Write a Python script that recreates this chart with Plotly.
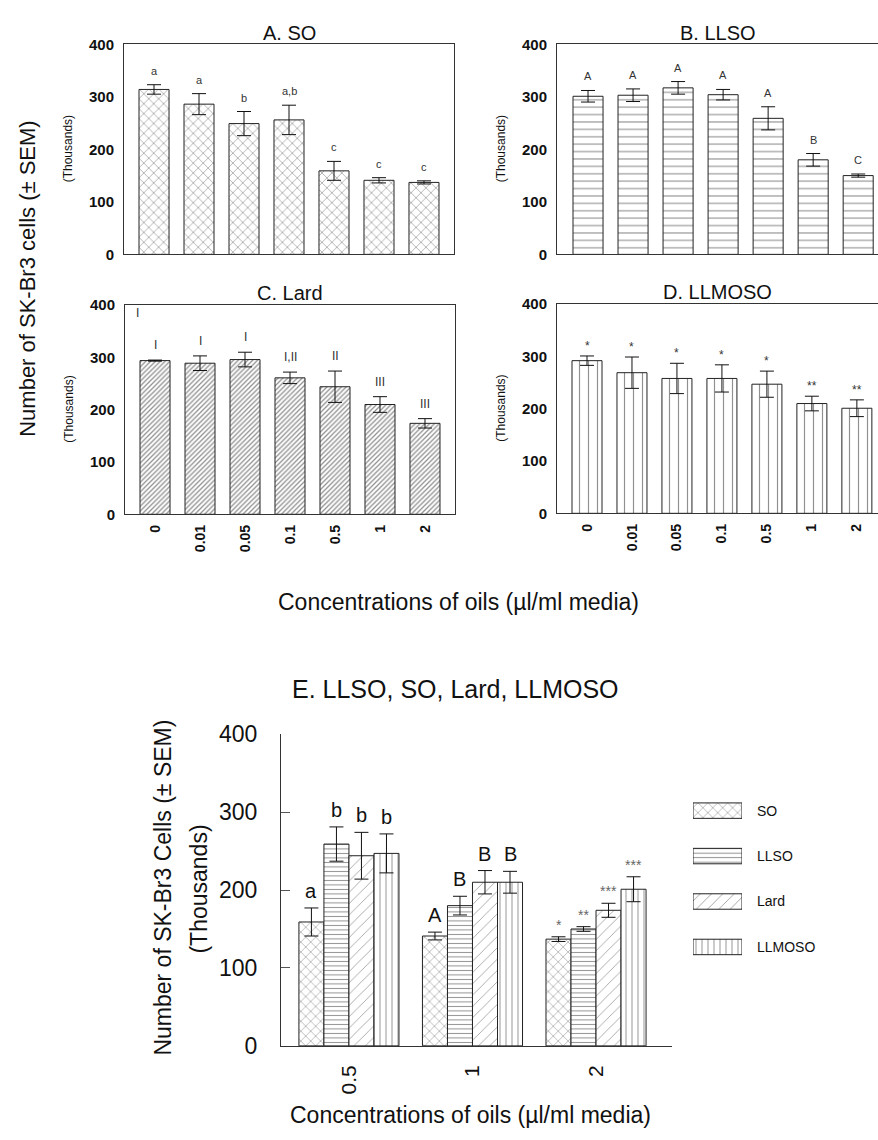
import plotly.graph_objects as go

# ---------------- data ----------------
conc = ["0", "0.01", "0.05", "0.1", "0.5", "1", "2"]

so_mean = [314, 286, 249, 256, 159, 141, 137]
so_sem = [9, 20, 23, 28, 18, 5, 3]
so_lab = ["a", "a", "b", "a,b", "c", "c", "c"]

llso_mean = [301, 303, 317, 304, 259, 180, 150]
llso_sem = [11, 12, 12, 10, 22, 12, 3]
llso_lab = ["A", "A", "A", "A", "A", "B", "C"]

lard_mean = [294, 289, 296, 261, 244, 210, 174]
lard_sem = [1, 14, 14, 11, 30, 15, 9]
lard_lab = ["I", "I", "I", "I,II", "II", "III", "III"]

llmoso_mean = [292, 269, 258, 258, 247, 210, 201]
llmoso_sem = [9, 30, 29, 26, 25, 14, 16]
llmoso_lab = ["*", "*", "*", "*", "*", "**", "**"]

e_conc = ["0.5", "1", "2"]
oils = ["SO", "LLSO", "Lard", "LLMOSO"]
e_lab_so = ["a", "A", "*"]
e_lab_llso = ["b", "B", "**"]
e_lab_lard = ["b", "B", "***"]
e_lab_llmoso = ["b", "B", "***"]

W, H = 878, 1140
FONT = "Arial, 'Liberation Sans', sans-serif"


def fx(p):
    return p / W


def fy(p):
    return 1 - p / H


pat_panel = {
    "SO": dict(shape="x", size=7, solidity=0.18, fgcolor="#222", bgcolor="white"),
    "LLSO": dict(shape="-", size=7.4, solidity=0.15, fgcolor="#222", bgcolor="white"),
    "Lard": dict(shape="/", size=3.4, solidity=0.38, fgcolor="#222", bgcolor="white"),
    "LLMOSO": dict(shape="|", size=9, solidity=0.13, fgcolor="#222", bgcolor="white"),
}
pat_e = {
    "SO": dict(shape="x", size=7, solidity=0.16, fgcolor="#222", bgcolor="white"),
    "LLSO": dict(shape="-", size=4.5, solidity=0.22, fgcolor="#222", bgcolor="white"),
    "Lard": dict(shape="/", size=8, solidity=0.1, fgcolor="#333", bgcolor="white"),
    "LLMOSO": dict(shape="|", size=6, solidity=0.16, fgcolor="#222", bgcolor="white"),
}

fig = go.Figure()

panels = [
    # key, title, mean, sem, labels, axis suffix, xdom(px), ydom(px top,bottom), xrange, mirror_y, show x ticks, label font, yshift
    ("SO", "A. SO", so_mean, so_sem, so_lab, "", (124, 454), (32, 247), [-0.667, 6.667], True, False, 11, 14),
    ("LLSO", "B. LLSO", llso_mean, llso_sem, llso_lab, "2", (557, 878), (32, 247), [-0.689, 6.44], False, False, 11, 14),
    ("Lard", "C. Lard", lard_mean, lard_sem, lard_lab, "3", (125, 455), (299, 513), [-0.667, 6.667], True, True, 12, 15),
    ("LLMOSO", "D. LLMOSO", llmoso_mean, llmoso_sem, llmoso_lab, "4", (557, 878), (298, 512), [-0.667, 6.47], False, True, 12, 10),
]

annotations = []
layout_axes = {}


def note(x, y, text, size, xref="paper", yref="paper", angle=0, color="#111", yshift=0):
    return dict(x=x, y=y, xref=xref, yref=yref, text=text, showarrow=False,
                xanchor="center", yanchor="middle", textangle=angle, yshift=yshift,
                font=dict(family=FONT, size=size, color=color))


for key, title, mean, sem, labs, sfx, xd, yd, xr, mirror_y, showx, lfs, ysh in panels:
    xa = "x" + sfx
    ya = "y" + sfx
    fig.add_trace(go.Bar(
        x=conc, y=mean, xaxis=xa, yaxis=ya, width=0.667,
        marker=dict(color="white", pattern=pat_panel[key], line=dict(color="#222", width=1)),
        error_y=dict(type="data", array=sem, color="#111", thickness=1, width=7),
        showlegend=False,
    ))
    layout_axes["xaxis" + sfx] = dict(
        domain=[fx(xd[0]), fx(xd[1])], anchor=ya, type="category", range=xr,
        showline=True, linecolor="#333", linewidth=1, mirror=True,
        ticks="", showticklabels=showx, tickangle=-90, ticklabelstandoff=4,
        tickfont=dict(family=FONT, size=14, color="#111", weight="bold"),
        showgrid=False, zeroline=False, fixedrange=True,
    )
    layout_axes["yaxis" + sfx] = dict(
        domain=[fy(yd[1]), fy(yd[0])], anchor=xa, range=[0, 400],
        tickvals=[0, 100, 200, 300, 400],
        showline=True, linecolor="#333", linewidth=1, mirror=mirror_y,
        ticks="", ticklabelstandoff=6,
        tickfont=dict(family=FONT, size=15, color="#111", weight="bold"),
        showgrid=False, zeroline=False, fixedrange=True,
    )
    for i, (m, s, t) in enumerate(zip(mean, sem, labs)):
        annotations.append(note(i, m + s, t, lfs, xref=xa, yref=ya, color="#333", yshift=ysh))
    # panel title
    annotations.append(note(fx((xd[0] + xd[1]) / 2), fy(yd[0] - 12), title, 20))
    # (Thousands)
    annotations.append(note(fx(xd[0] - 56), fy((yd[0] + yd[1]) / 2), "(Thousands)", 12, angle=-90))

# stray mark in panel C
annotations.append(note(-0.4, 385, "I", 12, xref="x3", yref="y3", color="#333"))

# ---------------- panel E ----------------
e_means = {
    "SO": so_mean[4:], "LLSO": llso_mean[4:], "Lard": lard_mean[4:], "LLMOSO": llmoso_mean[4:],
}
e_sems = {
    "SO": so_sem[4:], "LLSO": llso_sem[4:], "Lard": lard_sem[4:], "LLMOSO": llmoso_sem[4:],
}
e_labs = {"SO": e_lab_so, "LLSO": e_lab_llso, "Lard": e_lab_lard, "LLMOSO": e_lab_llmoso}

nb = len(oils)
bw = 0.81 / nb
for i, oil in enumerate(oils):
    fig.add_trace(go.Bar(
        name=oil, x=e_conc, y=e_means[oil], xaxis="x5", yaxis="y5",
        marker=dict(color="white", pattern=pat_e[oil], line=dict(color="#222", width=1)),
        error_y=dict(type="data", array=e_sems[oil], color="#111", thickness=1, width=7),
        showlegend=False,
    ))
    off = -0.405 + (i + 0.5) * bw
    for j, (m, s, t) in enumerate(zip(e_means[oil], e_sems[oil], e_labs[oil])):
        is_star = t.startswith("*")
        annotations.append(note(j + off, m + s, t, 14 if is_star else 20, xref="x5", yref="y5",
                                color="#666" if is_star else "#111", yshift=12 if is_star else 17))

layout_axes["xaxis5"] = dict(
    domain=[fx(281), fx(672)], anchor="y5", type="category", range=[-0.55, 2.615],
    showline=True, linecolor="#333", linewidth=1, ticks="", tickangle=-90, ticklabelstandoff=10,
    tickfont=dict(family=FONT, size=21, color="#111"),
    showgrid=False, zeroline=False, fixedrange=True,
)
layout_axes["yaxis5"] = dict(
    domain=[fy(1057), fy(738)], anchor="x5", range=[0, 400],
    tickvals=[0, 100, 200, 300, 400],
    showline=True, linecolor="#333", linewidth=1, ticks="inside", ticklen=9,
    tickcolor="#555", ticklabelstandoff=18,
    tickfont=dict(family=FONT, size=23, color="#111"),
    showgrid=False, zeroline=False, fixedrange=True,
)

# legend swatches drawn as a tiny bar axis
fig.add_trace(go.Bar(
    y=oils, x=[1] * len(oils), orientation="h", xaxis="x6", yaxis="y6", width=0.34,
    marker=dict(color="white", line=dict(color="#222", width=1),
                pattern=dict(shape=[pat_e[o]["shape"] for o in oils],
                             size=[pat_e[o]["size"] for o in oils],
                             solidity=[pat_e[o]["solidity"] for o in oils],
                             fgcolor="#222", bgcolor="white")),
    showlegend=False, hoverinfo="skip",
))
layout_axes["xaxis6"] = dict(domain=[fx(693), fx(742)], anchor="y6", range=[0, 1], visible=False, fixedrange=True)
layout_axes["yaxis6"] = dict(
    domain=[fy(979), fy(793)], anchor="x6", type="category", categoryarray=oils,
    range=[3.5, -0.5], side="right", showline=False, ticks="", ticklabelstandoff=14,
    tickfont=dict(family=FONT, size=14, color="#111"), showgrid=False, zeroline=False, fixedrange=True,
)

# titles
annotations += [
    note(fx(28), fy(272), "Number of SK-Br3 cells (± SEM)", 22, angle=-90),
    note(fx(458), fy(603), "Concentrations of oils (µl/ml media)", 23),
    note(fx(455), fy(692), "E. LLSO, SO, Lard, LLMOSO", 25),
    note(fx(163), fy(895), "Number of SK-Br3 Cells (± SEM)", 23, angle=-90),
    note(fx(199), fy(897), "(Thousands)", 23, angle=-90),
    note(fx(470), fy(1128), "Concentrations of oils (µl/ml media)", 23),
]

fig.update_layout(
    width=W, height=H, autosize=False,
    margin=dict(l=0, r=0, t=0, b=0),
    paper_bgcolor="white", plot_bgcolor="white",
    barmode="group", bargap=0.19, bargroupgap=0,
    showlegend=False,
    annotations=annotations,
    font=dict(family=FONT, color="#111"),
    **layout_axes,
)

fig.write_html("out.html", config={"displayModeBar": False})
